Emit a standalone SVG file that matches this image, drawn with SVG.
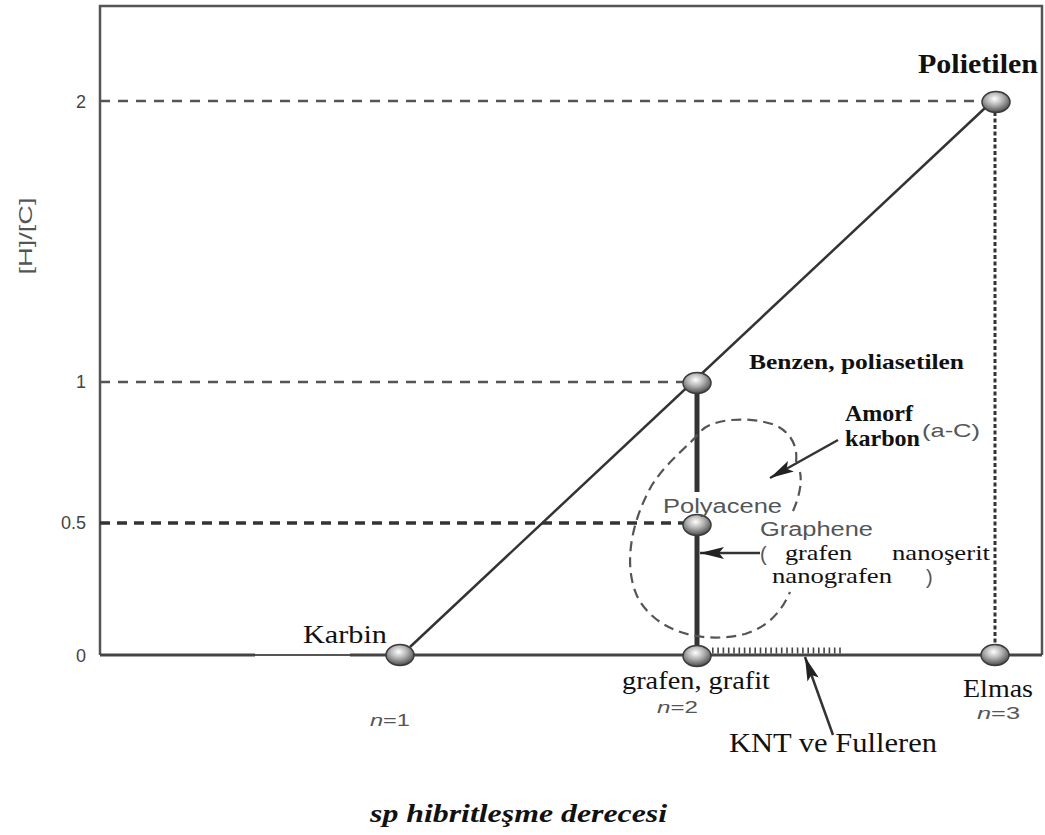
<svg xmlns="http://www.w3.org/2000/svg" width="1045" height="835" viewBox="0 0 1045 835">
<style>
.frame{stroke:#555;stroke-width:2.5;fill:none}
.guide{stroke:#555;stroke-width:2.5;stroke-dasharray:10 8;fill:none}
.guide2{stroke:#333;stroke-width:3.5;stroke-dasharray:10 7;fill:none}
.dots{stroke:#333;stroke-width:3;stroke-dasharray:4 2.5;fill:none}
.solid{stroke:#333;stroke-width:2.5;fill:none}
.bar{stroke:#333;stroke-width:5;fill:none}
.blob{stroke:#555;stroke-width:2.2;stroke-dasharray:10 6;fill:none}
.arr{stroke:#333;stroke-width:2.5;fill:none}
.ser{font-family:"Liberation Serif",serif;fill:#111}
.serb{font-family:"Liberation Serif",serif;font-weight:bold;fill:#111}
.sans{font-family:"Liberation Sans",Arial,sans-serif;fill:#555}
.tick{font-family:"Liberation Sans",Arial,sans-serif;fill:#444;font-size:18px;text-anchor:end}
.node{fill:url(#ball);stroke:#3a3a3a;stroke-width:1.5}
</style>
<defs>
<radialGradient id="ball" cx="0.45" cy="0.35" r="0.65">
<stop offset="0" stop-color="#ffffff"/>
<stop offset="0.45" stop-color="#b5b5b5"/>
<stop offset="1" stop-color="#4a4a4a"/>
</radialGradient>
<marker id="ah" viewBox="0 0 24 12" refX="24" refY="6" markerWidth="24" markerHeight="12" markerUnits="userSpaceOnUse" orient="auto">
<path d="M0,0 L24,6 L0,12 L5,6 Z" fill="#222"/>
</marker>
</defs>
<rect x="0" y="0" width="1045" height="835" fill="#fff"/>

<g id="axes">
<path class="frame" d="M100,655 L100,6 L1042,6 L1042,655"/>
<line x1="100" y1="655" x2="255" y2="655" stroke="#444" stroke-width="3"/>
<line x1="255" y1="655" x2="350" y2="655" stroke="#555" stroke-width="2"/>
<line x1="350" y1="655" x2="1042" y2="655" stroke="#444" stroke-width="3"/>
<text class="tick" x="86" y="108">2</text>
<text class="tick" x="86" y="388">1</text>
<text class="tick" x="86" y="529">0.5</text>
<text class="tick" x="86" y="662">0</text>
<text class="sans" font-size="19" fill="#444" text-anchor="middle" transform="translate(32,236) rotate(-90)" textLength="77" lengthAdjust="spacingAndGlyphs">[H]/[C]</text>
</g>

<g id="connectors">
<line class="guide" x1="100" y1="101" x2="983" y2="101"/>
<line class="guide" x1="100" y1="382" x2="684" y2="382"/>
<line class="guide2" x1="100" y1="523" x2="684" y2="523"/>
<line class="dots" x1="995" y1="112" x2="995" y2="645"/>
<line class="solid" x1="410" y1="647" x2="985" y2="108"/>
<line class="bar" x1="697" y1="392" x2="697" y2="492"/>
<line class="bar" x1="697" y1="535" x2="697" y2="646"/>
<line x1="712" y1="650.5" x2="842" y2="650.5" stroke="#444" stroke-width="6" stroke-dasharray="1.6 3.7"/>
<path class="blob" d="M793,511 C800,495 802,482 800,472 M796,462 C798,445 790,432 775,425 C750,416 712,418 700,432 C690,445 668,460 652,485 C632,520 622,565 638,598 C655,630 700,645 745,634 C770,626 782,610 790,592"/>
<line class="arr" x1="838" y1="440" x2="770" y2="478" marker-end="url(#ah)"/>
<line class="arr" x1="760" y1="553" x2="700" y2="553" marker-end="url(#ah)"/>
<line class="arr" x1="833" y1="735" x2="805" y2="657" marker-end="url(#ah)"/>
</g>

<g id="n-karbin"><ellipse class="node" cx="400" cy="655" rx="14" ry="10.5"/><text class="ser" x="303" y="643" font-size="26" textLength="84" lengthAdjust="spacingAndGlyphs">Karbin</text><text class="sans" x="370" y="726" font-size="17" textLength="40" lengthAdjust="spacingAndGlyphs"><tspan font-style="italic">n</tspan>=1</text></g>
<g id="n-grafen"><ellipse class="node" cx="697" cy="656" rx="14" ry="10.5"/><text class="ser" x="622" y="689" font-size="26" textLength="148" lengthAdjust="spacingAndGlyphs">grafen, grafit</text><text class="sans" x="657" y="713" font-size="17" textLength="41" lengthAdjust="spacingAndGlyphs"><tspan font-style="italic">n</tspan>=2</text></g>
<g id="n-elmas"><ellipse class="node" cx="995" cy="655" rx="14" ry="10.5"/><text class="ser" x="963" y="697" font-size="25" textLength="70" lengthAdjust="spacingAndGlyphs">Elmas</text><text class="sans" x="977" y="719" font-size="16" textLength="43" lengthAdjust="spacingAndGlyphs"><tspan font-style="italic">n</tspan>=3</text></g>
<g id="n-polietilen"><ellipse class="node" cx="996" cy="102" rx="14" ry="10.5"/><text class="serb" x="918" y="73" font-size="27" textLength="120" lengthAdjust="spacingAndGlyphs">Polietilen</text></g>
<g id="n-benzen"><ellipse class="node" cx="697" cy="383" rx="14" ry="10.5"/><text class="serb" x="749" y="369" font-size="21" textLength="215" lengthAdjust="spacingAndGlyphs">Benzen, poliasetilen</text></g>
<g id="n-polyacene"><ellipse class="node" cx="697" cy="525" rx="14" ry="10.5"/><text class="sans" x="663" y="513" font-size="20" textLength="119" lengthAdjust="spacingAndGlyphs">Polyacene</text></g>

<g id="l-amorf">
<text class="serb" x="845" y="421" font-size="23" textLength="68" lengthAdjust="spacingAndGlyphs">Amorf</text>
<text class="serb" x="845" y="446" font-size="23" textLength="75" lengthAdjust="spacingAndGlyphs">karbon</text>
<text class="sans" x="922" y="437" font-size="19" fill="#333" textLength="58" lengthAdjust="spacingAndGlyphs">(a-C)</text>
</g>
<g id="l-graphene">
<text class="sans" x="760" y="536" font-size="20" textLength="113" lengthAdjust="spacingAndGlyphs">Graphene</text>
<text class="sans" x="760" y="561" font-size="20" fill="#444">(</text>
<text class="ser" x="785" y="560" font-size="22" textLength="67" lengthAdjust="spacingAndGlyphs">grafen</text>
<text class="ser" x="892" y="560" font-size="22" textLength="98" lengthAdjust="spacingAndGlyphs">nanoşerit</text>
<text class="ser" x="772" y="583" font-size="22" textLength="120" lengthAdjust="spacingAndGlyphs">nanografen</text>
<text class="sans" x="926" y="584" font-size="20" fill="#444">)</text>
</g>
<g id="l-knt"><text class="ser" x="729" y="752" font-size="27" textLength="208" lengthAdjust="spacingAndGlyphs">KNT  ve Fulleren</text></g>
<g id="l-xaxis"><text class="ser" x="370" y="822" font-size="26" font-style="italic" font-weight="bold" textLength="297" lengthAdjust="spacingAndGlyphs">sp hibritleşme derecesi</text></g>
</svg>
